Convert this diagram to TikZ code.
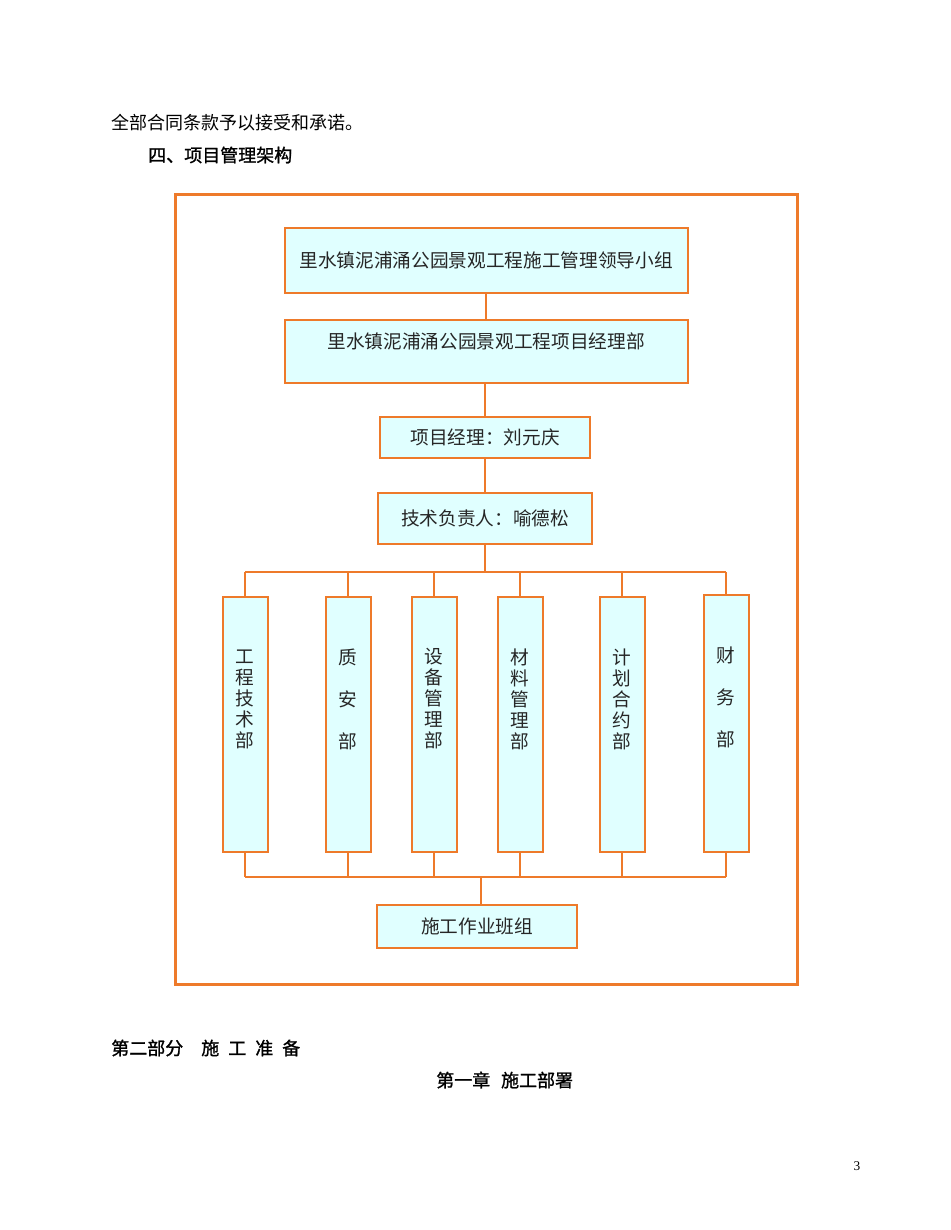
\documentclass[tikz,border=0pt]{standalone}
\usepackage{fontspec}
\setmainfont{Liberation Serif}
\newfontfamily\cjk{Noto Sans CJK SC}
\newfontfamily\cjkhead[FakeBold=1.2]{Noto Sans CJK SC}
\usepackage{tikz}
\usetikzlibrary{positioning}
\definecolor{orange}{RGB}{238,122,42}
\definecolor{boxfill}{RGB}{224,255,255}

\begin{document}
\begin{tikzpicture}[x=0.75pt,y=-0.75pt,
  box/.style={draw=orange,line width=1.5pt,fill=boxfill,inner sep=0pt,text=black!85,
    font=\cjk\fontsize{14}{15.75}\selectfont,align=center},
  dept/.style={box,minimum width=33.75pt,minimum height=191.25pt},
  vtext/.style={font=\cjk\fontsize{14}{15.75}\selectfont,text=black!85,align=center,inner sep=0pt},
  link/.style={draw=orange,line width=1.4pt},
  plain/.style={font=\cjk\fontsize{13.5}{16}\selectfont,anchor=west,inner sep=0pt},
  heading/.style={plain,font=\cjkhead\fontsize{13.5}{16}\selectfont}]
\useasboundingbox (0,0) rectangle (950,1230);
\fill[white] (0,0) rectangle (950,1230);

\node [plain] (intro) at (111,123) {全部合同条款予以接受和承诺。};
\node [heading] (head) at (148,155) {四、项目管理架构};

\draw [orange,line width=2.25pt] (175,195) rectangle (797,984); % frame

\node [box,minimum width=302.25pt,minimum height=48.75pt] (lead) at (486,260.5) {里水镇泥浦涌公园景观工程施工管理领导小组};
\node [box,minimum width=302.25pt,minimum height=47.25pt] (dept) at (486,351.5) {里水镇泥浦涌公园景观工程项目经理部\\\mbox{}};
\node [box,minimum width=157.5pt,minimum height=30.75pt] (pm) at (485,437.5) {项目经理：刘元庆};
\node [box,minimum width=160.5pt,minimum height=38.25pt] (tech) at (485,518.5) {技术负责人：喻德松};

% departments
\node [dept] (gcjs) at (245,724.5) {};
\node [dept] (zab) at (348,724.5) {};
\node [dept] (sbgl) at (434,724.5) {};
\node [dept] (clgl) at (520,724.5) {};
\node [dept] (jhhy) at (622,724.5) {};
\node [dept,minimum height=192.75pt] (cw) at (726,723.5) {};
\node [vtext] at (gcjs |- 0,699) {工\\程\\技\\术\\部};
\node [vtext] at (zab |- 0,699) {质\\[15.75pt]安\\[15.75pt]部};
\node [vtext] at (sbgl |- 0,699) {设\\备\\管\\理\\部};
\node [vtext] at (clgl |- 0,699) {材\\料\\管\\理\\部};
\node [vtext] at (jhhy |- 0,699) {计\\划\\合\\约\\部};
\node [vtext] at (cw |- 0,697) {财\\[15.75pt]务\\[15.75pt]部};

\node [box,minimum width=150pt,minimum height=32.25pt] (team) at (477,926.5) {施工作业班组};

\coordinate (bustop) at (485,572);
\coordinate (busbot) at (481,877);

\draw [link] (lead) -- (dept);
\draw [link] (dept.south -| pm) -- (pm);
\draw [link] (pm) -- (tech);
\draw [link] (tech) -- (bustop);
\draw [link] (gcjs.north |- bustop) -- (cw.north |- bustop);
\draw [link] (gcjs.south |- busbot) -- (cw.south |- busbot);
\foreach \d in {gcjs,zab,sbgl,clgl,jhhy,cw} {
  \draw [link] (\d.north) -- (\d.north |- bustop);
  \draw [link] (\d.south) -- (\d.south |- busbot);
}
\draw [link] (busbot) -- (busbot |- team.north);

\node [heading] (part) at (111,1048) {第二部分\hspace{1em}施\hspace{0.5em}工\hspace{0.5em}准\hspace{0.5em}备};
\node [heading] (chap) at (436,1080) {第一章\hspace{0.6em}施工部署};
\node [font=\fontsize{10}{12}\selectfont,inner sep=0pt] (page) at (857,1166) {3};
\end{tikzpicture}
\end{document}
